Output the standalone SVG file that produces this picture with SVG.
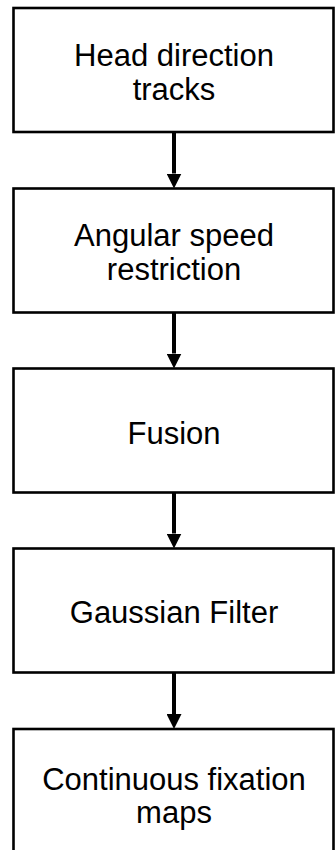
<svg xmlns="http://www.w3.org/2000/svg" width="335" height="850" viewBox="0 0 335 850">
<defs>
<style>
.box{fill:#fff;stroke:#000;stroke-width:2.6}
.lbl{font-family:"Liberation Sans",Arial,Helvetica,sans-serif;font-size:31px;fill:#000;text-anchor:middle}
.con{stroke:#000;stroke-width:4;fill:none}
</style>
<marker id="ah" viewBox="0 0 15 15" markerWidth="15" markerHeight="15" refX="0" refY="7.5" orient="auto" markerUnits="userSpaceOnUse">
<path d="M0,0 L15,7.5 L0,15 z" fill="#000"/>
</marker>
</defs>
<rect width="335" height="850" fill="#fff"/>
<g id="connectors">
<line class="con" x1="174" y1="132" x2="174" y2="173.5" marker-end="url(#ah)"/>
<line class="con" x1="174" y1="312.5" x2="174" y2="353.5" marker-end="url(#ah)"/>
<line class="con" x1="174" y1="492.5" x2="174" y2="533.5" marker-end="url(#ah)"/>
<line class="con" x1="174" y1="672.5" x2="174" y2="714" marker-end="url(#ah)"/>
</g>
<g id="node1">
<rect class="box" x="13.5" y="8" width="320" height="124"/>
<text class="lbl" x="174" y="66">Head direction</text>
<text class="lbl" x="174" y="99.5">tracks</text>
</g>
<g id="node2">
<rect class="box" x="13.5" y="188.5" width="320" height="124"/>
<text class="lbl" x="174" y="245.5">Angular speed</text>
<text class="lbl" x="174" y="279.5">restriction</text>
</g>
<g id="node3">
<rect class="box" x="13.5" y="368.5" width="320" height="124"/>
<text class="lbl" x="174" y="443.5">Fusion</text>
</g>
<g id="node4">
<rect class="box" x="13.5" y="548.5" width="320" height="124"/>
<text class="lbl" x="174" y="623">Gaussian Filter</text>
</g>
<g id="node5">
<rect class="box" x="13.5" y="729" width="320" height="140"/>
<text class="lbl" x="174" y="790">Continuous fixation</text>
<text class="lbl" x="174" y="823">maps</text>
</g>
</svg>
